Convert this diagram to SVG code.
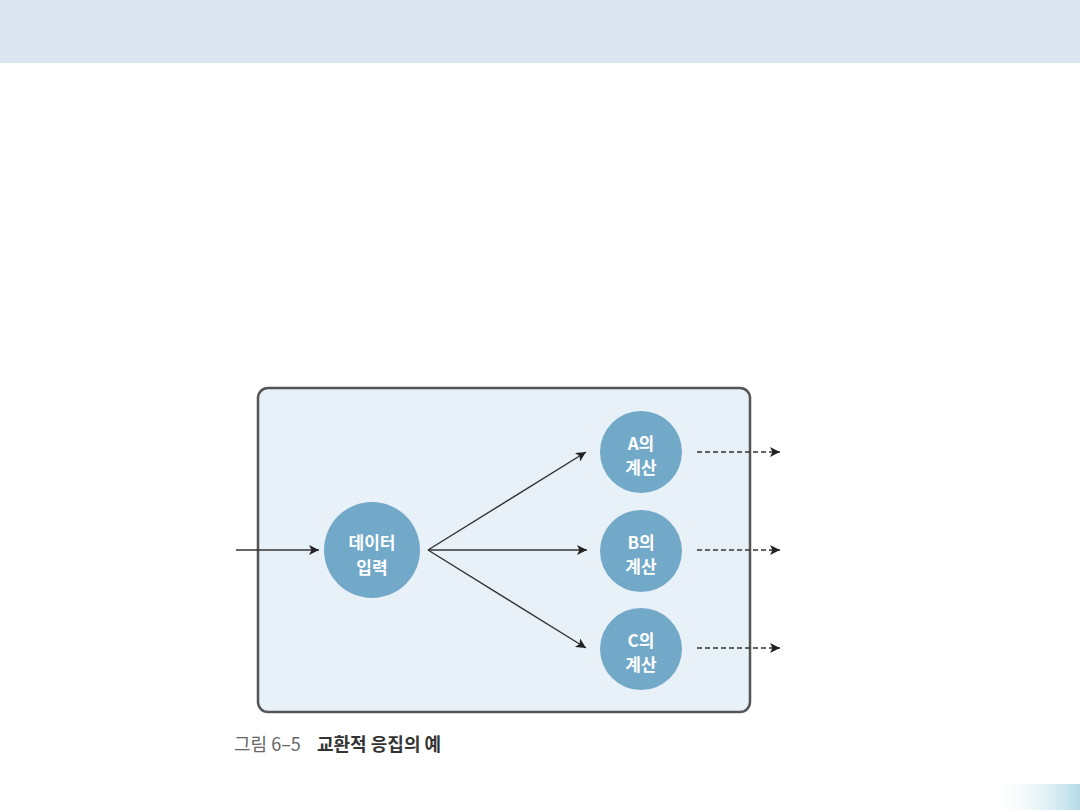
<svg xmlns="http://www.w3.org/2000/svg" width="1080" height="810" viewBox="0 0 1080 810">
<style>
.node{fill:#72a9c8}
.lbl{font-family:"Noto Sans CJK KR","Noto Sans",sans-serif;font-size:17px;font-weight:700;fill:#ffffff;text-anchor:middle;dominant-baseline:central}
.solid{stroke:#333333;stroke-width:1.4;fill:none;marker-end:url(#ah)}
.dash{stroke:#333333;stroke-width:1.4;fill:none;stroke-dasharray:5,3;marker-end:url(#ah)}
.cap{font-family:"Noto Sans CJK KR","Noto Sans",sans-serif;font-size:18px;dominant-baseline:central}
</style>
<defs>
<marker id="ah" viewBox="0 0 10 10" refX="10" refY="5" markerWidth="12" markerHeight="10" markerUnits="userSpaceOnUse" orient="auto">
<path d="M0,0 L10,5 L0,10 L2.5,5 Z" fill="#222222"/>
</marker>
<linearGradient id="cg" x1="0" y1="0" x2="1" y2="0">
<stop offset="0" stop-color="#ffffff" stop-opacity="0"/>
<stop offset="1" stop-color="#b3dae5"/>
</linearGradient>
</defs>
<rect x="0" y="0" width="1080" height="810" fill="#ffffff"/>
<rect x="0" y="0" width="1080" height="63" fill="#dbe6f1"/>
<rect x="990" y="784" width="90" height="26" fill="url(#cg)"/>
<g id="container">
<rect x="258" y="388" width="492" height="324" rx="10" ry="10" fill="#e9f1f8" stroke="#555555" stroke-width="2.5"/>
</g>
<g id="connectors">
<line class="solid" x1="236" y1="550" x2="319" y2="550"/>
<line class="solid" x1="428" y1="550" x2="586" y2="452"/>
<line class="solid" x1="428" y1="550" x2="587" y2="550"/>
<line class="solid" x1="428" y1="550" x2="586" y2="648"/>
<line class="dash" x1="697" y1="452" x2="780" y2="452"/>
<line class="dash" x1="697" y1="550" x2="780" y2="550"/>
<line class="dash" x1="697" y1="648" x2="780" y2="648"/>
</g>
<g id="node-input">
<circle class="node" cx="372" cy="550" r="48"/>
<text class="lbl" x="372" y="541">데이터</text>
<text class="lbl" x="372" y="566">입력</text>
</g>
<g id="node-a">
<circle class="node" cx="641" cy="452" r="41"/>
<text class="lbl" x="641" y="442">A의</text>
<text class="lbl" x="641" y="466">계산</text>
</g>
<g id="node-b">
<circle class="node" cx="641" cy="551" r="41"/>
<text class="lbl" x="641" y="541">B의</text>
<text class="lbl" x="641" y="565">계산</text>
</g>
<g id="node-c">
<circle class="node" cx="641" cy="649" r="41"/>
<text class="lbl" x="641" y="639">C의</text>
<text class="lbl" x="641" y="663">계산</text>
</g>
<g id="caption">
<text class="cap" x="234" y="743" fill="#666666">그림 6–5</text>
<text class="cap" x="317" y="743" fill="#333333" font-weight="700">교환적 응집의 예</text>
</g>
</svg>
